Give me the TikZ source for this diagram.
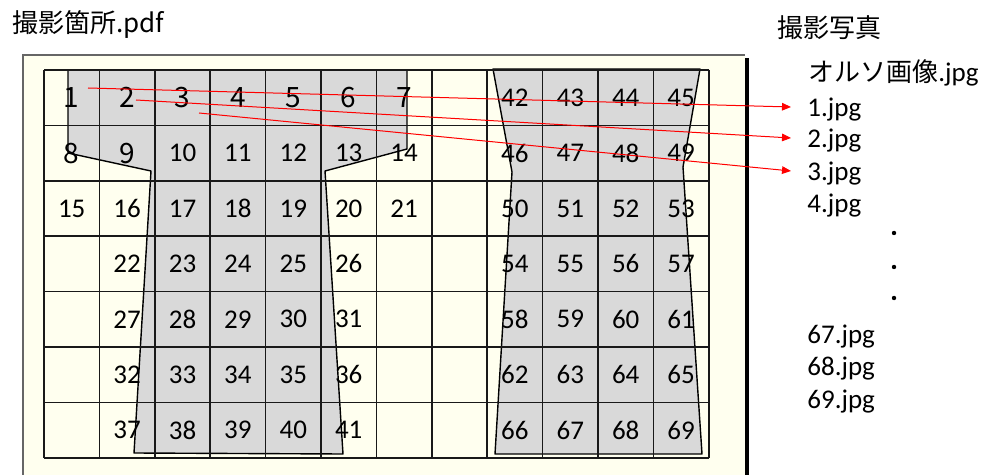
\documentclass[tikz,border=0pt]{standalone}
\usepackage{fontspec}
\setmainfont{Carlito}
\newfontfamily\jp{Noto Sans CJK JP}
\usetikzlibrary{arrows.meta}
\definecolor{pageyellow}{HTML}{FFFFEF}
\definecolor{shapegray}{HTML}{D9D9D9}

\begin{document}
\begin{tikzpicture}[
    x=0.5pt, y=-0.5pt,
    every node/.style={font=\fontsize{13.5}{15}\selectfont},
    num/.style={inner sep=0pt},
    title/.style={anchor=west, inner sep=0pt, font=\jp\fontsize{13}{15}\selectfont},
    file/.style={anchor=base west, inner sep=0pt},
    piece/.style={fill=shapegray, draw=black, line width=0.7pt, line join=round},
    gridline/.style={draw=black!90, line width=0.8pt},
    arrow/.style={-{Triangle[length=4.5pt,width=3.8pt]}, red, line width=0.5pt},
    dot/.style={circle, fill=black, inner sep=0pt, minimum size=2.2pt}
]
\useasboundingbox (0,0) rectangle (983,475);

% Page
\fill[pageyellow] (23,55) rectangle (745,475);
\draw[black!60, line width=0.7pt] (23,475) -- (23,55) -- (745,55);
\fill[black] (745,58) rectangle (749,475);

% Pieces
\filldraw[piece] (68,70) -- (407,70) -- (407,149) -- (325,171) -- (343,454)
    -- (134,453) -- (151,171) -- (68,153) -- cycle;
\filldraw[piece] (493,69) -- (700,69) -- (683,167) -- (702,454) -- (495,454)
    -- (512,172) -- cycle;

% Grid
\foreach \i in {0,...,12}
    \draw[gridline] ({44+55.4*\i},70) -- ({44+55.4*\i},457.8);
\foreach \j in {0,...,7}
    \draw[gridline] (44,{70+55.4*\j}) -- (709,{70+55.4*\j});

% Cell numbers
\foreach \r in {0,1,2}
  \foreach \c in {0,...,6} {
    \pgfmathtruncatemacro\n{7*\r+\c+1}
    \node[num] (c\n) at ({44+55.4*(\c+0.5)},{70+55.4*(\r+0.5)})
        {\ifnum\n<10 \jp\fontsize{14}{16}\selectfont\fi\n};
  }
\foreach \r in {3,...,6}
  \foreach \c in {1,...,5} {
    \pgfmathtruncatemacro\n{22+5*(\r-3)+\c-1}
    \node[num] (c\n) at ({44+55.4*(\c+0.5)},{70+55.4*(\r+0.5)}) {\n};
  }
\foreach \r in {0,...,6}
  \foreach \c in {8,...,11} {
    \pgfmathtruncatemacro\n{42+4*\r+\c-8}
    \node[num] (c\n) at ({44+55.4*(\c+0.5)},{70+55.4*(\r+0.5)}) {\n};
  }

% Titles
\node[title] (pdfname) at (12,24) {撮影箇所.pdf};
\node[title] (photos) at (777,28) {撮影写真};
\node[anchor=west, inner sep=0pt] (ortho) at (808,73) {{\jp\fontsize{13}{15}\selectfont オルソ画像}.jpg};

% Photo files
\node[file] (f1) at (807,117) {1.jpg};
\node[file] (f2) at (807,148) {2.jpg};
\node[file] (f3) at (807,181) {3.jpg};
\node[file] (f4) at (807,213) {4.jpg};
\node[dot] (d1) at (894,233) {};
\node[dot] (d2) at (894,267) {};
\node[dot] (d3) at (894,298) {};
\node[file] (f67) at (807,343) {67.jpg};
\node[file] (f68) at (807,375) {68.jpg};
\node[file] (f69) at (807,408) {69.jpg};

% Arrows
\coordinate (s1) at (88,88);
\coordinate (s2) at (136,100);
\coordinate (s3) at (199,113);
\draw[arrow] (s1) -- ([shift={(-16,-10)}]f1.base west);
\draw[arrow] (s2) -- ([shift={(-16,-10)}]f2.base west);
\draw[arrow] (s3) -- ([shift={(-16,-10)}]f3.base west);

\end{tikzpicture}
\end{document}
